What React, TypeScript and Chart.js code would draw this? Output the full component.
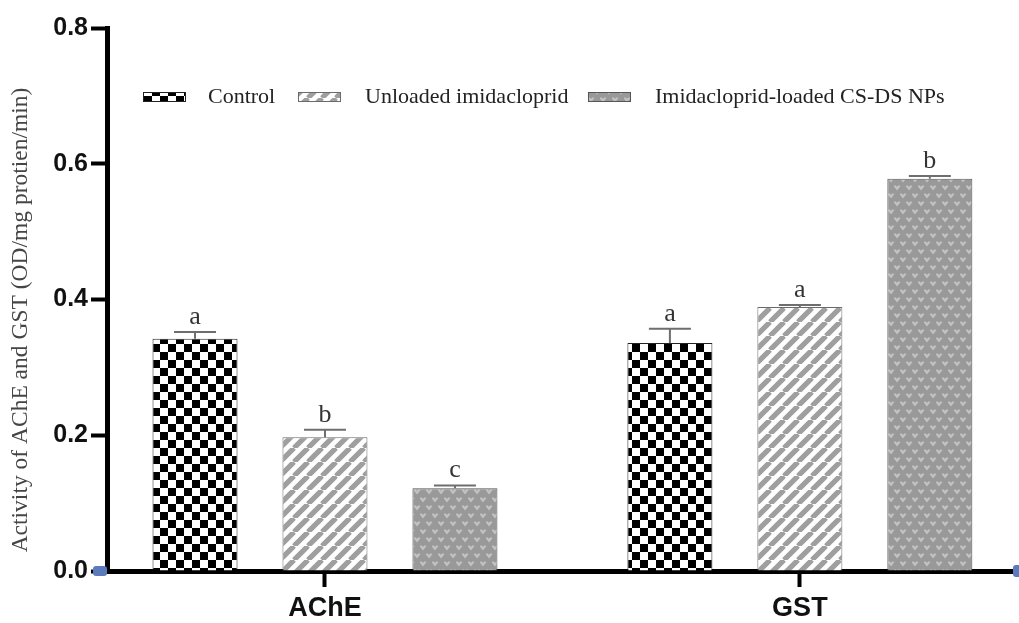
import React, { useEffect, useRef } from "react";
import { Chart, registerables } from "chart.js";

Chart.register(...registerables);

// Enzyme groups on the x axis
const categories = ["AChE", "GST"];

// Treatment series
const seriesNames = ["Control", "Unloaded imidacloprid", "Imidacloprid-loaded CS-DS NPs"];
const controlValues = [0.342, 0.336];
const unloadedValues = [0.197, 0.389];
const nanoValues = [0.122, 0.578];

// Standard errors (upper whisker only)
const controlErrors = [0.01, 0.021];
const unloadedErrors = [0.011, 0.003];
const nanoErrors = [0.004, 0.004];

// Significance letters above each bar
const controlLetters = ["a", "a"];
const unloadedLetters = ["b", "a"];
const nanoLetters = ["c", "b"];

const yTicks = [0, 0.2, 0.4, 0.6, 0.8];
const yTitle = "Activity of AChE and GST (OD/mg protien/min)";

const allValues = [controlValues, unloadedValues, nanoValues];
const allErrors = [controlErrors, unloadedErrors, nanoErrors];
const allLetters = [controlLetters, unloadedLetters, nanoLetters];

// legend swatch / label x positions
const legendBoxX = [143, 298, 588];
const legendTextX = [208, 365, 655];

function makeTile(w: number, h: number, draw: (g: CanvasRenderingContext2D) => void) {
  const c = document.createElement("canvas");
  c.width = w;
  c.height = h;
  const g = c.getContext("2d") as CanvasRenderingContext2D;
  draw(g);
  return c;
}

function checkerPattern(ctx: CanvasRenderingContext2D) {
  const tile = makeTile(16, 16, (g) => {
    g.fillStyle = "#ffffff";
    g.fillRect(0, 0, 16, 16);
    g.fillStyle = "#000000";
    g.fillRect(0, 0, 8, 8);
    g.fillRect(8, 8, 8, 8);
  });
  return ctx.createPattern(tile, "repeat") as CanvasPattern;
}

function stripePattern(ctx: CanvasRenderingContext2D) {
  const n = 14;
  const tile = makeTile(n, n, (g) => {
    g.fillStyle = "#ffffff";
    g.fillRect(0, 0, n, n);
    g.strokeStyle = "#9f9f9f";
    g.lineWidth = 5.2;
    g.beginPath();
    for (const k of [-n, 0, n]) {
      g.moveTo(k, n);
      g.lineTo(k + n, 0);
    }
    g.stroke();
  });
  return ctx.createPattern(tile, "repeat") as CanvasPattern;
}

function heartPattern(ctx: CanvasRenderingContext2D) {
  const tile = makeTile(12, 16, (g) => {
    g.fillStyle = "#999999";
    g.fillRect(0, 0, 12, 16);
    g.fillStyle = "#c2c2c2";
    const heart = (cx: number, cy: number) => {
      g.beginPath();
      g.moveTo(cx - 3.5, cy - 2);
      g.lineTo(cx - 1.6, cy - 2.8);
      g.lineTo(cx, cy - 1.2);
      g.lineTo(cx + 1.6, cy - 2.8);
      g.lineTo(cx + 3.5, cy - 2);
      g.lineTo(cx, cy + 2.6);
      g.closePath();
      g.fill();
    };
    heart(3, 4);
    heart(9, 12);
    heart(-3, 12);
    heart(15, 12);
  });
  return ctx.createPattern(tile, "repeat") as CanvasPattern;
}

export default function App() {
  const canvasRef = useRef<HTMLCanvasElement | null>(null);

  useEffect(() => {
    const canvas = canvasRef.current;
    if (!canvas) return;
    const ctx = canvas.getContext("2d") as CanvasRenderingContext2D;

    const fills = [checkerPattern(ctx), stripePattern(ctx), heartPattern(ctx)];
    const borders = ["#222222", "#6a6a6a", "#555555"];

    const errorBarsPlugin = {
      id: "errorBarsAndLetters",
      afterDatasetsDraw(chart: any) {
        const c = chart.ctx as CanvasRenderingContext2D;
        const yScale = chart.scales.y;
        c.save();
        chart.data.datasets.forEach((_: any, d: number) => {
          const meta = chart.getDatasetMeta(d);
          meta.data.forEach((bar: any, i: number) => {
            const v = allValues[d][i];
            const top = yScale.getPixelForValue(v + allErrors[d][i]);
            const base = yScale.getPixelForValue(v);
            c.strokeStyle = "#6e6e6e";
            c.lineWidth = 2;
            c.beginPath();
            c.moveTo(bar.x, base);
            c.lineTo(bar.x, top);
            c.moveTo(bar.x - 21, top);
            c.lineTo(bar.x + 21, top);
            c.stroke();
            c.fillStyle = "#333333";
            c.font = "26px 'Liberation Serif'";
            c.textAlign = "center";
            c.textBaseline = "alphabetic";
            c.fillText(allLetters[d][i], bar.x, top - 8);
          });
        });
        c.restore();
      },
    };

    const decorPlugin = {
      id: "decor",
      afterDraw(chart: any) {
        const c = chart.ctx as CanvasRenderingContext2D;
        const area = chart.chartArea;
        c.save();

        // legend row
        c.font = "22px 'Liberation Serif'";
        c.textBaseline = "middle";
        c.textAlign = "left";
        const boxY = 92;
        seriesNames.forEach((name, d) => {
          const x = legendBoxX[d];
          c.fillStyle = fills[d];
          c.fillRect(x, boxY, 43, 10);
          c.strokeStyle = borders[d];
          c.lineWidth = 1;
          c.strokeRect(x + 0.5, boxY + 0.5, 42, 9);
          c.fillStyle = "#222222";
          c.fillText(name, legendTextX[d], 97);
        });

        // y axis title
        c.translate(21, 320);
        c.rotate(-Math.PI / 2);
        c.font = "23.5px 'Liberation Serif'";
        c.fillStyle = "#454545";
        c.textAlign = "center";
        c.textBaseline = "middle";
        c.fillText(yTitle, 0, 0);
        c.restore();

        // small markers at both ends of the baseline
        c.save();
        c.fillStyle = "#5b7bbd";
        const y0 = chart.scales.y.getPixelForValue(0);
        c.beginPath();
        c.roundRect(area.left - 14, y0 - 5, 14, 10, 3);
        c.roundRect(area.right - 2, y0 - 6, 14, 12, 3);
        c.fill();
        c.restore();
      },
    };

    const chart = new Chart(ctx, {
      type: "bar",
      data: {
        datasets: seriesNames.map((name, d) => ({
          label: name,
          data: allValues[d].map((v, i) => ({ x: i, y: v })),
          backgroundColor: fills[d],
          borderColor: borders[d],
          borderWidth: 1,
          categoryPercentage: 0.821,
          barPercentage: 0.654,
        })),
      },
      options: {
        responsive: true,
        maintainAspectRatio: false,
        animation: false,
        events: [],
        layout: { padding: { top: 28, right: 4, left: 0, bottom: 0 } },
        plugins: {
          legend: { display: false },
          tooltip: { enabled: false },
        },
        scales: {
          x: {
            type: "linear",
            min: -0.459,
            max: 1.453,
            offset: false,
            afterBuildTicks: (s: any) => {
              s.ticks = categories.map((_, i) => ({ value: i }));
            },
            afterFit: (s: any) => {
              s.height = 52;
            },
            grid: {
              display: true,
              offset: false,
              drawOnChartArea: false,
              tickLength: 16,
              tickWidth: 4,
              tickColor: "#000000",
            },
            border: { display: true, width: 5, color: "#000000" },
            ticks: {
              autoSkip: false,
              maxRotation: 0,
              padding: 5,
              color: "#111111",
              font: { family: "'Liberation Sans'", weight: "bold", size: 27 },
              callback: (v: any) => categories[v] ?? "",
            },
          },
          y: {
            min: 0,
            max: 0.8,
            afterBuildTicks: (s: any) => {
              s.ticks = yTicks.map((v) => ({ value: v }));
            },
            afterFit: (s: any) => {
              s.width = 107;
            },
            grid: {
              display: true,
              drawOnChartArea: false,
              tickLength: 16,
              tickWidth: 4,
              tickColor: "#000000",
            },
            border: { display: true, width: 5, color: "#000000" },
            ticks: {
              padding: 3,
              color: "#111111",
              font: { family: "'Liberation Sans'", weight: "bold", size: 25 },
              callback: (v: any) => Number(v).toFixed(1),
            },
          },
        },
      } as any,
      plugins: [errorBarsPlugin, decorPlugin],
    });

    return () => chart.destroy();
  }, []);

  return (
    <div style={{ position: "absolute", left: 0, top: 0, width: 1019, height: 623, background: "#ffffff" }}>
      <canvas ref={canvasRef} />
    </div>
  );
}
